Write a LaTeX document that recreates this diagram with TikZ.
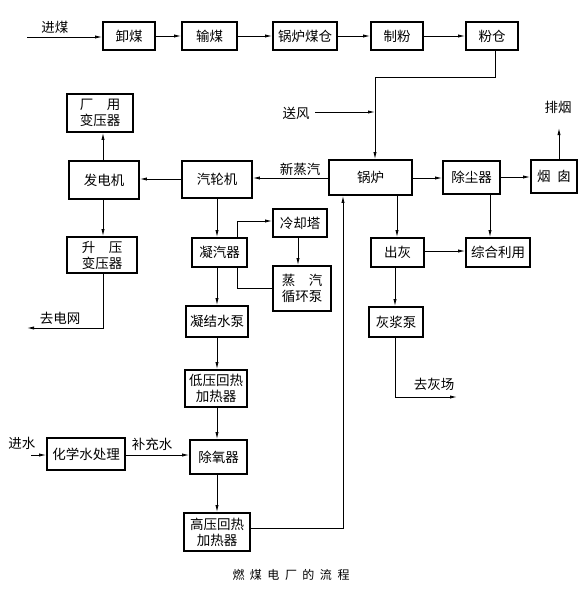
\documentclass[tikz,border=0pt]{standalone}
\usepackage{fontspec}
\setmainfont{Noto Sans CJK SC}
\usetikzlibrary{arrows.meta}
\begin{document}
\begin{tikzpicture}[x=1pt,y=-1pt,
  box/.style={draw=black,line width=1.7pt,fill=white,inner sep=0pt,align=center,font=\fontsize{13.5}{16}\selectfont},
  lbl/.style={inner sep=0pt,font=\fontsize{13.5}{16}\selectfont},
  conn/.style={line width=0.8pt},
  arr/.style={conn,-{Latex[length=7pt,width=3.2pt]}}]
\useasboundingbox (0,0) rectangle (587,600);
% boxes
\node[box,minimum width=52pt,minimum height=28pt] (xiemei) at (129,36) {卸煤};
\node[box,minimum width=55pt,minimum height=28pt] (shumei) at (209.5,36) {输煤};
\node[box,minimum width=64pt,minimum height=28pt] (cang) at (305,36) {锅炉煤仓};
\node[box,minimum width=52pt,minimum height=28pt] (zhifen) at (397,36) {制粉};
\node[box,minimum width=52pt,minimum height=28pt] (fencang) at (492,36) {粉仓};
\node[box,minimum width=66pt,minimum height=38pt] (cyb) at (100,113) {厂\hspace{1em}用\\变压器};
\node[box,minimum width=70pt,minimum height=38pt] (fdj) at (104,180) {发电机};
\node[box,minimum width=70pt,minimum height=37pt] (qlj) at (217,179.5) {汽轮机};
\node[box,minimum width=83pt,minimum height=35pt] (guolu) at (370.5,177.5) {锅炉};
\node[box,minimum width=57pt,minimum height=33pt] (ccq) at (471.5,177.5) {除尘器};
\node[box,minimum width=46pt,minimum height=33pt] (yc) at (554,176.5) {烟\hspace{0.5em}囱};
\node[box,minimum width=54pt,minimum height=28pt] (lqt) at (300,223) {冷却塔};
\node[box,minimum width=70pt,minimum height=36pt] (syb) at (102,255) {升\hspace{1em}压\\变压器};
\node[box,minimum width=55pt,minimum height=29pt] (nqq) at (219.5,252.5) {凝汽器};
\node[box,minimum width=53pt,minimum height=29pt] (chuhui) at (397.5,252.5) {出灰};
\node[box,minimum width=64pt,minimum height=29pt] (zhly) at (498,252.5) {综合利用};
\node[box,minimum width=58pt,minimum height=45pt] (zqxhb) at (302,288.5) {蒸\hspace{1em}汽\\循环泵};
\node[box,minimum width=62pt,minimum height=31pt] (njsb) at (217,321.5) {凝结水泵};
\node[box,minimum width=54pt,minimum height=30pt] (hjb) at (396,322) {灰浆泵};
\node[box,minimum width=62pt,minimum height=37pt] (dyhr) at (216,388.5) {低压回热\\加热器};
\node[box,minimum width=78pt,minimum height=32pt] (hxscl) at (86,454) {化学水处理};
\node[box,minimum width=57pt,minimum height=34pt] (cyq) at (218.5,457) {除氧器};
\node[box,minimum width=66pt,minimum height=38pt] (gyhr) at (217,532) {高压回热\\加热器};
% labels
\node[lbl] (l_jinmei) at (55,27) {进煤};
\node[lbl] (l_songfeng) at (296,113) {送风};
\node[lbl] (l_xzq) at (300,169) {新蒸汽};
\node[lbl] (l_paiyan) at (558,107) {排烟};
\node[lbl] (l_qdw) at (60,318) {去电网};
\node[lbl] (l_qhc) at (434,384) {去灰场};
\node[lbl] (l_jinshui) at (22,443) {进水};
\node[lbl] (l_bcs) at (152,444) {补充水};
\node[inner sep=0pt,font=\fontsize{12}{14}\selectfont] (caption) at (291,575) {燃\hspace{5.5pt}煤\hspace{5.5pt}电\hspace{5.5pt}厂\hspace{5.5pt}的\hspace{5.5pt}流\hspace{5.5pt}程};
% free-end coordinates
\coordinate (c_jinmei) at (27,37);
\coordinate (c_songfeng) at (315,112);
\coordinate (c_fc) at (375,77);
\coordinate (c_paiyan) at (559,128);
\coordinate (c_qdw) at (27,328);
\coordinate (c_jinshui) at (31,455);
\coordinate (c_qhc) at (457,397);
% connectors
\draw[arr] (c_jinmei) -- (c_jinmei -| xiemei.west);
\draw[arr] (xiemei.east) -- (shumei.west);
\draw[arr] (shumei.east) -- (cang.west);
\draw[arr] (cang.east) -- (zhifen.west);
\draw[arr] (zhifen.east) -- (fencang.west);
\draw[arr] (fencang.south -| 495,0) |- (c_fc) -- (c_fc |- guolu.north);
\draw[arr] (c_songfeng) -- (c_songfeng -| c_fc);
\draw[arr] (guolu.west |- 0,178) -- (qlj.east |- 0,178);
\draw[arr] (qlj.west |- 0,179) -- (fdj.east |- 0,179);
\draw[arr] (fdj.north -| 103,0) -- (cyb.south -| 103,0);
\draw[arr] (fdj.south -| 103,0) -- (syb.north -| 103,0);
\draw[arr] (syb.south -| 103,0) |- (c_qdw);
\draw[arr] (qlj.south -| 217,0) -- (nqq.north -| 217,0);
\draw[arr] (nqq.north -| 237,0) |- (lqt.west |- 0,221);
\draw[arr] (lqt.south -| 298,0) -- (zqxhb.north -| 298,0);
\draw[conn] (zqxhb.west |- 0,288) -| (nqq.south -| 237,0);
\draw[arr] (nqq.south -| 217,0) -- (njsb.north -| 217,0);
\draw[arr] (njsb.south -| 217,0) -- (dyhr.north -| 217,0);
\draw[arr] (dyhr.south -| 217,0) -- (cyq.north -| 217,0);
\draw[arr] (c_jinshui) -- (c_jinshui -| hxscl.west);
\draw[arr] (hxscl.east |- 0,455) -- (cyq.west |- 0,455);
\draw[arr] (cyq.south -| 217,0) -- (gyhr.north -| 217,0);
\draw[arr] (gyhr.east |- 0,528) -| (guolu.south -| 343,0);
\draw[arr] (guolu.east |- 0,178) -- (ccq.west |- 0,178);
\draw[arr] (ccq.east |- 0,177) -- (yc.west |- 0,177);
\draw[arr] (yc.north -| c_paiyan) -- (c_paiyan);
\draw[arr] (guolu.south -| 397,0) -- (chuhui.north -| 397,0);
\draw[arr] (ccq.south -| 490,0) -- (zhly.north -| 490,0);
\draw[arr] (chuhui.east |- 0,251) -- (zhly.west |- 0,251);
\draw[arr] (chuhui.south -| 395,0) -- (hjb.north -| 395,0);
\draw[arr] (hjb.south -| 395,0) |- (c_qhc);
\end{tikzpicture}
\end{document}
